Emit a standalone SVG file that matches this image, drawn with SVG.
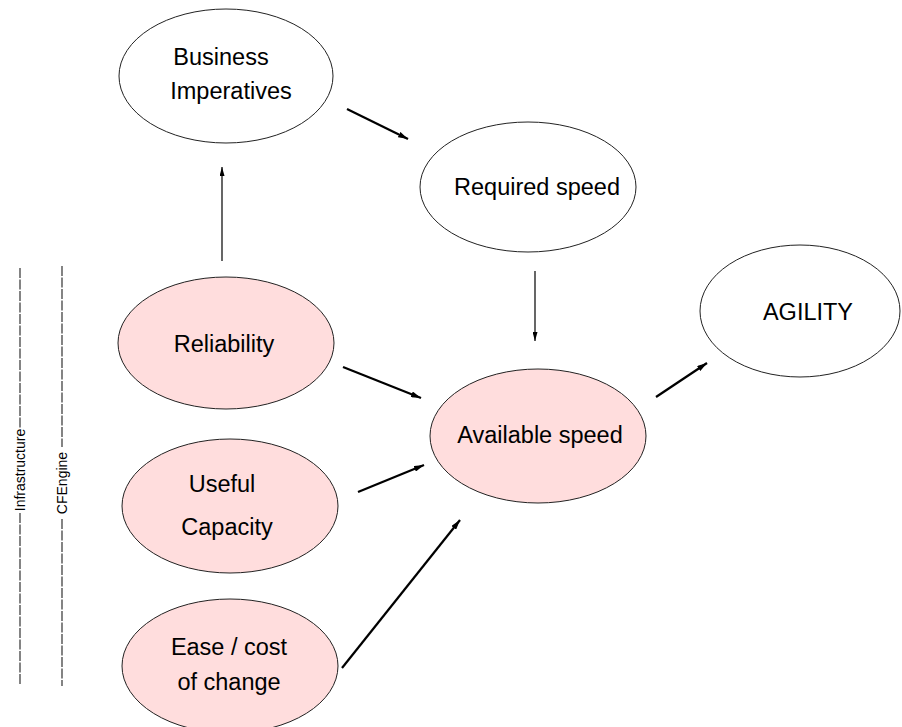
<svg xmlns="http://www.w3.org/2000/svg" width="902" height="727" viewBox="0 0 902 727">
<style>
.n{stroke:#222;stroke-width:1;fill:#fff}
.p{fill:#ffdddd}
.t{font-family:"Liberation Sans",Arial,sans-serif;font-size:23.5px;fill:#000;text-anchor:middle}
.s{font-family:"Liberation Sans",Arial,sans-serif;font-size:14px;fill:#000;text-anchor:middle}
.k{stroke:#000;stroke-width:2.2;fill:none}
.h{stroke:#000;stroke-width:1.2;fill:none}
.d{stroke:#333;stroke-width:1.2;stroke-dasharray:10 1.5;fill:none}
</style>
<defs>
<marker id="a" viewBox="0 0 10 6" refX="10" refY="3" markerWidth="10" markerHeight="6" markerUnits="userSpaceOnUse" orient="auto">
<path d="M0,0 L10,3 L0,6 z" fill="#000"/>
</marker>
<marker id="b" viewBox="0 0 9 5" refX="9" refY="2.5" markerWidth="9" markerHeight="5" markerUnits="userSpaceOnUse" orient="auto">
<path d="M0,0 L9,2.5 L0,5 z" fill="#000"/>
</marker>
</defs>
<rect width="902" height="727" fill="#fff"/>
<g id="connectors">
<line class="k" x1="347" y1="109" x2="408" y2="139" marker-end="url(#a)"/>
<line class="h" x1="222" y1="261" x2="222" y2="167" marker-end="url(#b)"/>
<line class="h" x1="535" y1="271" x2="535" y2="341" marker-end="url(#b)"/>
<line class="k" x1="343" y1="367" x2="421" y2="398" marker-end="url(#a)"/>
<line class="k" x1="358" y1="492" x2="424" y2="465" marker-end="url(#a)"/>
<line class="k" x1="342" y1="668" x2="460" y2="520" marker-end="url(#a)"/>
<line class="k" x1="656" y1="397" x2="707" y2="363" marker-end="url(#a)"/>
</g>
<g id="business">
<ellipse class="n" cx="226" cy="76" rx="107" ry="67"/>
<text class="t" x="221" y="65">Business</text>
<text class="t" x="231" y="99">Imperatives</text>
</g>
<g id="required">
<ellipse class="n" cx="528" cy="187" rx="108" ry="65"/>
<text class="t" x="537" y="195">Required speed</text>
</g>
<g id="available">
<ellipse class="n p" cx="538" cy="436" rx="108" ry="67"/>
<text class="t" x="540" y="443">Available speed</text>
</g>
<g id="agility">
<ellipse class="n" cx="800" cy="311" rx="100" ry="66"/>
<text class="t" x="808" y="320">AGILITY</text>
</g>
<g id="reliability">
<ellipse class="n p" cx="226" cy="343" rx="108" ry="66"/>
<text class="t" x="224" y="352">Reliability</text>
</g>
<g id="useful">
<ellipse class="n p" cx="230" cy="506" rx="108" ry="67"/>
<text class="t" x="222" y="492">Useful</text>
<text class="t" x="227" y="535">Capacity</text>
</g>
<g id="ease">
<ellipse class="n p" cx="230" cy="666" rx="108" ry="67"/>
<text class="t" x="229" y="655">Ease / cost</text>
<text class="t" x="229" y="690">of change</text>
</g>
<g id="infrastructure">
<line class="d" x1="20" y1="268" x2="20" y2="428"/>
<line class="d" x1="20" y1="513" x2="20" y2="684"/>
<text class="s" transform="translate(25,470) rotate(-90)">Infrastructure</text>
</g>
<g id="cfengine">
<line class="d" x1="62" y1="266" x2="62" y2="447"/>
<line class="d" x1="62" y1="519" x2="62" y2="686"/>
<text class="s" transform="translate(67,483) rotate(-90)" font-size="13">CFEngine</text>
</g>
</svg>
